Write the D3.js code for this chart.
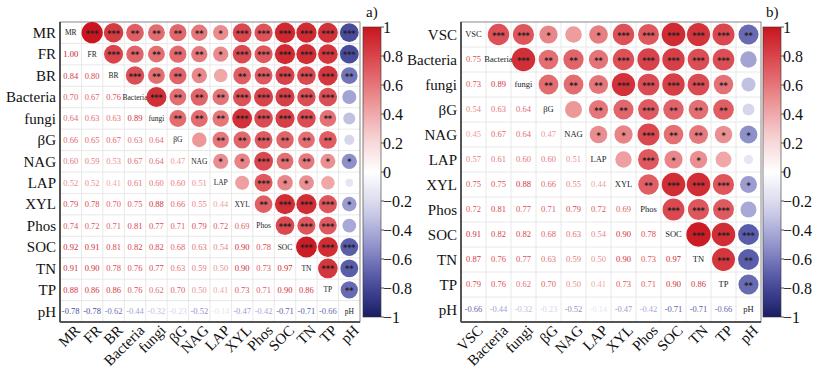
<!DOCTYPE html>
<html><head><meta charset="utf-8">
<script src="https://cdn.jsdelivr.net/npm/d3@7"></script>
<style>body{margin:0;background:#fff}svg{display:block}</style>
</head><body>
<svg id="chart" width="827" height="369"></svg>
<script>
// ---------- DATA ----------
const varsA = ["MR","FR","BR","Bacteria","fungi","βG","NAG","LAP","XYL","Phos","SOC","TN","TP","pH"];
const corrA = [
  [],
  [1.00],
  [0.84,0.80],
  [0.70,0.67,0.76],
  [0.64,0.63,0.63,0.89],
  [0.66,0.65,0.67,0.63,0.64],
  [0.60,0.59,0.53,0.67,0.64,0.47],
  [0.52,0.52,0.41,0.61,0.60,0.60,0.51],
  [0.79,0.78,0.70,0.75,0.88,0.66,0.55,0.44],
  [0.74,0.72,0.71,0.81,0.77,0.71,0.79,0.72,0.69],
  [0.92,0.91,0.81,0.82,0.82,0.68,0.63,0.54,0.90,0.78],
  [0.91,0.90,0.78,0.76,0.77,0.63,0.59,0.50,0.90,0.73,0.97],
  [0.88,0.86,0.86,0.76,0.62,0.70,0.50,0.41,0.73,0.71,0.90,0.86],
  [-0.78,-0.78,-0.62,-0.44,-0.32,-0.23,-0.52,-0.14,-0.47,-0.42,-0.71,-0.71,-0.66]
];
// significance stars, upper triangle, row i -> columns i+1..n-1
const starsA = [
  ["***","***","**","**","**","**","*","***","***","***","***","***","***"],
  ["***","**","**","**","**","*","***","***","***","***","***","***"],
  ["***","**","**","*","","**","***","***","***","***","**"],
  ["***","**","**","**","***","***","***","***","***",""],
  ["**","**","**","***","***","***","***","**",""],
  ["","**","**","***","**","**","**",""],
  ["*","*","***","**","**","*","*"],
  ["","***","*","*","",""],
  ["**","***","***","***","*"],
  ["***","***","***",""],
  ["***","***","***"],
  ["***","**"],
  ["**"],
  []
];

const varsB = ["VSC","Bacteria","fungi","βG","NAG","LAP","XYL","Phos","SOC","TN","TP","pH"];
const corrB = [
  [],
  [0.75],
  [0.73,0.89],
  [0.54,0.63,0.64],
  [0.45,0.67,0.64,0.47],
  [0.57,0.61,0.60,0.60,0.51],
  [0.75,0.75,0.88,0.66,0.55,0.44],
  [0.72,0.81,0.77,0.71,0.79,0.72,0.69],
  [0.91,0.82,0.82,0.68,0.63,0.54,0.90,0.78],
  [0.87,0.76,0.77,0.63,0.59,0.50,0.90,0.73,0.97],
  [0.79,0.76,0.62,0.70,0.50,0.41,0.73,0.71,0.90,0.86],
  [-0.66,-0.44,-0.32,-0.23,-0.52,-0.14,-0.47,-0.42,-0.71,-0.71,-0.66]
];
const starsB = [
  ["***","***","*","","*","***","***","***","***","***","**"],
  ["***","**","**","**","***","***","***","***","***",""],
  ["**","**","**","***","***","***","***","**",""],
  ["","**","**","***","**","**","**",""],
  ["*","*","***","**","**","*","*"],
  ["","***","*","*","",""],
  ["**","***","***","***","*"],
  ["***","***","***",""],
  ["***","***","***"],
  ["***","**"],
  ["**"],
  []
];
const cbTicks = [1,0.8,0.6,0.4,0.2,0,-0.2,-0.4,-0.6,-0.8,-1];
const panelLabels = ["a)","b)"];

// ---------- STYLE ----------
const SERIF = "Liberation Serif";
const color = d3.scaleLinear()
  .domain([-1,-0.75,-0.5,-0.25,0,0.25,0.5,0.75,1])
  .range(["#1a1c64","#4f52a3","#9495cc","#d3d3ea","#ffffff","#f6cfd0","#eb9092","#dd5057","#c8151f"]);

const svg = d3.select("#chart");
svg.append("rect").attr("width",827).attr("height",369).attr("fill","#fff");

const defs = svg.append("defs");
const grad = defs.append("linearGradient").attr("id","cbgrad")
  .attr("x1",0).attr("y1",0).attr("x2",0).attr("y2",1);
d3.range(0,1.0001,0.05).forEach(t=>{
  grad.append("stop").attr("offset",t).attr("stop-color",color(1-2*t));
});

function txt(g){ return g.append("text").style("font-family",SERIF); }

function drawPanel(vars, corr, stars, opt){
  const n = vars.length;
  const g = svg.append("g");
  const x = d3.scaleBand().domain(vars).range([opt.x0, opt.x1]);
  const y = d3.scaleBand().domain(vars).range([opt.y0, opt.y1]);
  const bw = x.bandwidth(), bh = y.bandwidth();
  const rOf = v => Math.sqrt(Math.abs(v)) * Math.min(bw,bh)/2 * 0.99;
  const val = (i,j) => i>j ? corr[i][j] : corr[j][i];

  // grid
  for(let k=1;k<n;k++){
    g.append("line").attr("x1",opt.x0+k*bw).attr("x2",opt.x0+k*bw).attr("y1",opt.y0).attr("y2",opt.y1)
      .attr("stroke","#e2e2e2").attr("stroke-width",0.8);
    g.append("line").attr("y1",opt.y0+k*bh).attr("y2",opt.y0+k*bh).attr("x1",opt.x0).attr("x2",opt.x1)
      .attr("stroke","#e2e2e2").attr("stroke-width",0.8);
  }
  g.append("rect").attr("x",opt.x0).attr("y",opt.y0).attr("width",opt.x1-opt.x0).attr("height",opt.y1-opt.y0)
    .attr("fill","none").attr("stroke","#8a8a8a").attr("stroke-width",1);
  g.append("line").attr("x1",opt.x0).attr("x2",opt.x0).attr("y1",opt.y0).attr("y2",opt.y1)
    .attr("stroke","#555").attr("stroke-width",2);
  g.append("line").attr("x1",opt.x0).attr("x2",opt.x1).attr("y1",opt.y1).attr("y2",opt.y1)
    .attr("stroke","#555").attr("stroke-width",2);

  for(let i=0;i<n;i++){
    for(let j=0;j<n;j++){
      const cx = x(vars[j]) + bw/2, cy = y(vars[i]) + bh/2;
      if(i===j){
        txt(g).attr("x",cx).attr("y",cy).attr("dy","0.35em").attr("text-anchor","middle")
          .style("font-size",opt.diagFs+"px").attr("fill","#222").text(vars[i]);
      } else if(i>j){
        const v = val(i,j);
        txt(g).attr("x",cx).attr("y",cy).attr("dy","0.35em").attr("text-anchor","middle")
          .style("font-size",opt.numFs+"px").attr("fill",color(v)).text(v.toFixed(2));
      } else {
        const v = val(i,j);
        g.append("circle").attr("cx",cx).attr("cy",cy).attr("r",rOf(v)).attr("fill",color(v));
        const s = stars[i][j-i-1];
        if(s){
          g.append("text").attr("x",cx).attr("y",cy+4).attr("text-anchor","middle")
            .style("font-family","DejaVu Sans").style("font-size","8px").attr("font-weight","bold")
            .attr("fill","#222").text(s);
        }
      }
    }
  }
  // row labels
  vars.forEach(v=>{
    txt(g).attr("x",opt.x0-4).attr("y",y(v)+bh/2).attr("dy","0.35em").attr("text-anchor","end")
      .style("font-size","15px").attr("fill","#111").text(v);
  });
  // column labels, rotated
  vars.forEach(v=>{
    const ax = x(v)+bw/2+4, ay = opt.y1+3;
    txt(g).attr("transform",`translate(${ax},${ay}) rotate(-45)`).attr("dy","0.6em")
      .attr("text-anchor","end").style("font-size","15px").attr("fill","#111").text(v);
  });

  // colorbar
  const cb = d3.scaleLinear().domain([1,-1]).range([opt.cbY0, opt.cbY1]);
  g.append("rect").attr("x",opt.cbX).attr("y",opt.cbY0).attr("width",opt.cbW).attr("height",opt.cbY1-opt.cbY0)
    .attr("fill","url(#cbgrad)").attr("stroke","#333").attr("stroke-width",0.6);
  cbTicks.forEach(t=>{
    g.append("line").attr("x1",opt.cbX+opt.cbW).attr("x2",opt.cbX+opt.cbW+3).attr("y1",cb(t)).attr("y2",cb(t))
      .attr("stroke","#333").attr("stroke-width",0.8);
    txt(g).attr("x",opt.cbX+opt.cbW+2).attr("y",cb(t)).attr("dy","0.35em")
      .style("font-size","16px").attr("fill","#111")
      .text(t===0 ? "0" : (t<0 ? "\u2212" : "") + d3.format("")(Math.abs(t)));
  });
  txt(g).attr("x",opt.cbX+3).attr("y",opt.cbY0-10).style("font-size","15px")
    .attr("fill","#111").text(opt.label);
}

drawPanel(varsA, corrA, starsA, {x0:60,x1:360,y0:22,y1:322,diagFs:7.5,numFs:8.5,
  cbX:363,cbW:18,cbY0:27,cbY1:317,label:panelLabels[0]});
drawPanel(varsB, corrB, starsB, {x0:461,x1:761,y0:22,y1:322,diagFs:8.5,numFs:8.5,
  cbX:763,cbW:18,cbY0:27,cbY1:317,label:panelLabels[1]});
</script>
</body></html>
